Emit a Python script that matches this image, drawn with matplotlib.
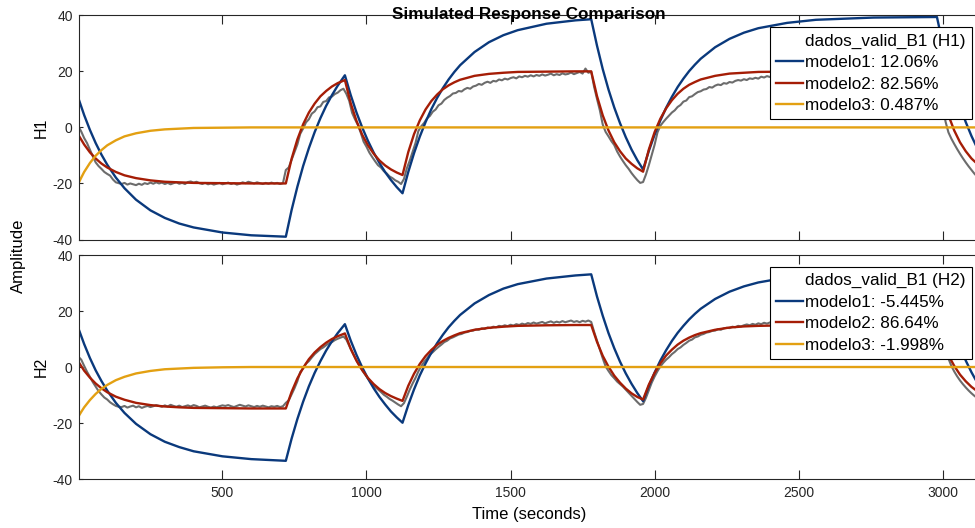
import numpy as np
import matplotlib
matplotlib.use("Agg")
import matplotlib.pyplot as plt
from matplotlib.lines import Line2D

plt.rcParams["font.family"] = ["Liberation Sans", "DejaVu Sans"]
plt.rcParams["axes.unicode_minus"] = False

# ================= DATA =================
TS = 10  # sample time of the validation record (s)

# measured outputs (dados_valid_B1), one sample every TS seconds from t = 0
h1_data = [
    0.5, -1.5, -3.8, -5.6, -8.0, -10.3, -12.5, -13.8, -14.8, -15.9, -16.6, -17.2, -18.6, -19.6, -19.9,
    -20.2, -19.8, -20.4, -20.0, -20.3, -20.6, -20.1, -20.5, -19.9, -20.2,
    -19.7, -20.1, -19.6, -20.0, -19.7, -20.2, -19.8, -20.3, -19.9, -19.6,
    -20.1, -19.8, -20.2, -19.5, -19.3, -19.7, -19.4, -19.9, -20.2, -19.8,
    -20.3, -20.0, -20.4, -20.1, -19.8, -20.3, -20.0, -19.7, -20.2, -19.9,
    -20.4, -20.1, -19.6, -19.9, -19.4, -19.7, -20.0, -19.6, -19.9, -20.2,
    -19.8, -20.1, -19.7, -20.0, -19.8, -20.2, -19.9,
    -15.2, -14.3, -11.6, -8.8, -6.1, -2.3, -0.4, 1.8, 2.9, 4.9, 5.7, 7.2, 7.5, 9.1, 9.4, 10.7,
    11.0, 11.9, 12.4, 13.3, 13.8,
    12.0, 9.5, 5.2, 2.9, 0.9, -1.9, -5.1, -6.9, -9.0, -10.6, -12.1, -13.5, -14.3, -15.6, -16.4,
    -17.5, -18.1, -18.9, -19.4, -20.2,
    -18.4, -14.6, -11.9, -8.7, -5.6, -1.3, 0.4, 1.6, 3.2, 4.1,
    5.6, 6.4, 7.9, 8.5, 9.8, 10.6, 11.2, 12.1, 12.3, 13.0,
    12.8, 13.6, 14.1, 13.8, 14.6, 14.9, 15.5, 15.2, 15.9, 16.3,
    15.9, 16.6, 16.4, 17.1, 16.8, 17.4, 17.1, 17.6, 17.9, 17.5,
    18.2, 17.9, 18.4, 18.1, 18.6, 18.2, 18.7, 18.4, 18.9, 18.5,
    18.8, 19.2, 18.6, 19.0, 18.7, 19.3, 18.9, 19.1, 19.6, 19.0,
    19.4, 19.8, 19.2, 21.0, 19.5, 19.9,
    14.5, 10.2, 6.1, 1.0, -1.6, -3.2, -4.9, -6.3, -8.6, -10.4, -12.0, -13.5, -14.8, -16.3, -17.6,
    -18.8, -19.8, -19.5,
    -16.8, -13.5, -9.9, -6.2, -1.8, 0.6, 1.9, 3.1, 4.2, 5.3,
    6.1, 7.3, 8.0, 9.2, 9.6, 10.8, 11.1, 11.9, 12.6, 12.9,
    13.5, 13.7, 14.4, 14.2, 14.9, 15.3, 15.1, 15.8, 15.6, 16.2,
    16.0, 16.6, 16.9, 16.7, 17.2, 16.9, 17.5, 17.3, 17.7, 17.4,
    18.1, 17.8, 18.3, 18.0, 18.5, 18.2, 18.7, 18.4, 18.9, 18.6,
    19.0, 18.7, 19.2, 18.8, 19.1, 19.4, 18.9, 19.3, 19.0, 19.5,
    19.1, 19.4, 19.7, 19.2, 19.6, 19.3, 19.8, 19.4, 19.7, 19.5,
    19.9, 19.4, 19.8, 19.5, 19.9, 19.6, 20.1, 19.7, 19.5, 19.9,
    19.6, 20.0, 19.7, 20.2, 19.8, 19.5, 19.9, 20.1, 19.7, 20.0,
    19.6, 19.9, 20.2, 19.8, 20.0, 19.6, 19.9, 20.1, 19.7, 20.0,
    19.8, 19.9,
    14.0, 8.0, 2.0, -1.8, -4.0, -5.9, -7.7, -9.4, -11.0, -12.5, -13.9, -15.2, -16.5, -17.6,
]

h2_data = [
    3.7, 2.6, 0.4, -1.7, -3.5, -5.4, -7.0, -8.6, -9.8, -10.9, -11.6, -12.6, -13.3, -13.9, -14.2,
    -14.3, -13.9, -14.5, -14.1, -13.8, -14.4, -14.0, -14.6, -14.2, -13.9,
    -14.3, -14.0, -13.6, -13.9, -14.2, -13.7, -14.1, -13.5, -13.9, -14.2,
    -13.8, -14.3, -14.0, -13.7, -14.1, -13.6, -13.9, -14.4, -14.1, -13.8,
    -14.2, -14.5, -14.1, -14.4, -14.0, -13.7, -13.9, -13.6, -14.0, -14.3,
    -13.9, -13.5, -13.8, -14.1, -13.7, -14.0, -14.3, -13.9, -14.2, -13.8,
    -14.1, -14.4, -14.0, -14.2, -13.9, -14.3, -14.0,
    -12.8, -11.9, -9.8, -7.6, -5.1, -1.8, -0.6, 1.2, 2.1, 3.4, 4.6, 5.5, 6.4, 7.0, 7.8, 8.5,
    8.9, 9.6, 10.1, 10.5, 10.9,
    9.8, 7.6, 5.4, 3.4, 1.4, -0.3, -1.9, -3.4, -4.8, -6.0, -7.2, -8.0, -8.9, -9.9, -10.6,
    -11.4, -12.0, -12.7, -13.4, -14.0,
    -12.9, -10.6, -8.1, -5.9, -3.9, -1.6, 0.3, 1.8, 3.1, 4.4,
    5.3, 6.3, 7.2, 8.0, 8.9, 9.4, 10.2, 10.6, 11.1, 11.6,
    11.8, 12.3, 12.5, 12.9, 13.0, 13.4, 13.3, 13.8, 13.6, 14.1,
    13.9, 14.4, 14.2, 14.7, 14.5, 14.9, 14.6, 15.1, 14.8, 15.3,
    15.0, 15.5, 15.2, 15.7, 15.4, 15.9, 15.5, 15.8, 16.1, 15.6,
    16.0, 16.3, 15.8, 16.2, 15.9, 16.4, 16.0, 16.3, 16.6, 16.1,
    16.4, 16.0, 16.5, 16.2, 16.6, 16.1,
    12.6, 9.4, 6.2, 3.1, 0.2, -1.4, -2.9, -4.0, -5.2, -6.1, -7.0, -8.1, -9.2, -10.3, -11.4,
    -12.5, -13.5, -13.2,
    -11.0, -8.3, -5.6, -3.4, -1.5, 0.2, 1.5, 2.6, 3.5, 4.6,
    5.4, 6.4, 7.0, 7.9, 8.6, 9.4, 9.8, 10.6, 10.9, 11.5,
    11.8, 12.3, 12.5, 12.9, 13.0, 13.5, 13.3, 13.8, 14.0, 13.9,
    14.4, 14.2, 14.7, 14.5, 14.9, 15.2, 14.9, 15.4, 15.1, 15.6,
    15.3, 15.8, 15.5, 15.9, 16.1, 15.7, 16.2, 15.9, 16.3, 16.0,
    16.4, 16.1, 16.5, 16.2, 16.4, 16.7, 16.2, 16.5, 16.3, 16.7,
    16.4, 16.8, 16.5, 16.2, 16.6, 16.4, 16.8, 16.5, 16.3, 16.7,
    16.4, 16.6, 16.9, 16.5, 16.7, 16.4, 16.8, 16.5, 16.7, 16.3,
    16.6, 16.9, 16.5, 16.7, 16.4, 16.8, 16.6, 16.3, 16.7, 16.5,
    16.9, 16.6, 16.4, 16.8, 16.5, 16.7, 16.4, 16.8, 16.6, 16.9,
    16.5, 16.7,
    13.0, 9.4, 6.0, 3.0, 0.4, -1.6, -3.3, -4.8, -6.1, -7.3, -8.4, -9.4, -10.3, -11.1,
]

# simulated model outputs (modelo1 / modelo2), read at these times (s)
t_model = [
    0, 20, 40, 60, 80, 100, 130, 160, 200, 250, 300, 350, 400, 500, 600, 720,
    740, 760, 780, 800, 820, 840, 860, 880, 900, 925,
    945, 965, 985, 1005, 1025, 1045, 1065, 1085, 1105, 1125,
    1145, 1165, 1185, 1205, 1225, 1245, 1265, 1285, 1305, 1325, 1375, 1425, 1475, 1525, 1625, 1725, 1780,
    1800, 1820, 1840, 1860, 1880, 1900, 1920, 1940, 1960,
    1980, 2000, 2020, 2040, 2060, 2080, 2100, 2120, 2140, 2160, 2210, 2260, 2310, 2360, 2460, 2560, 2760, 2980,
    3000, 3020, 3040, 3060, 3080, 3100, 3126,
]

m1_h1 = [
    10.4, 4.4, -0.9, -5.6, -9.7, -13.3, -17.9, -21.7, -25.8, -29.6, -32.3, -34.3, -35.7, -37.5, -38.5, -39.0,
    -29.5, -21.2, -13.8, -7.4, -1.7, 3.3, 7.7, 11.5, 14.9, 18.6,
    11.6, 5.4, 0.0, -4.8, -9.0, -12.7, -16.0, -18.8, -21.3, -23.5,
    -15.9, -9.2, -3.3, 1.9, 6.5, 10.5, 14.0, 17.1, 19.8, 22.2, 26.9, 30.4, 32.9, 34.7, 37.0, 38.2, 38.6,
    29.2, 20.8, 13.5, 7.1, 1.5, -3.5, -7.9, -11.7, -15.0,
    -8.4, -2.6, 2.5, 7.0, 10.9, 14.4, 17.4, 20.1, 22.4, 24.5, 28.6, 31.6, 33.8, 35.4, 37.3, 38.4, 39.2, 39.4,
    29.9, 21.5, 14.1, 7.6, 1.9, -3.1, -8.7,
]
m2_h1 = [
    -2.7, -6.1, -8.9, -11.1, -12.9, -14.3, -15.9, -17.1, -18.1, -18.9, -19.4, -19.6, -19.8, -19.9, -20.0, -20.0,
    -11.2, -4.3, 1.1, 5.3, 8.5, 11.1, 13.0, 14.6, 15.8, 16.9,
    8.7, 2.4, -2.6, -6.4, -9.4, -11.8, -13.6, -15.0, -16.1, -17.0,
    -8.8, -2.4, 2.5, 6.4, 9.4, 11.7, 13.6, 15.0, 16.1, 17.0, 18.4, 19.1, 19.5, 19.8, 19.9, 20.0, 20.0,
    11.2, 4.3, -1.1, -5.3, -8.5, -11.1, -13.0, -14.6, -15.8,
    -7.9, -1.7, 3.1, 6.8, 9.7, 12.0, 13.8, 15.2, 16.2, 17.1, 18.4, 19.2, 19.5, 19.8, 19.9, 20.0, 20.0, 20.0,
    11.2, 4.3, -1.1, -5.3, -8.5, -11.1, -13.6,
]
m1_h2 = [
    13.8, 8.2, 3.2, -1.2, -5.0, -8.4, -12.8, -16.4, -20.3, -24.0, -26.7, -28.6, -30.1, -31.9, -32.9, -33.5,
    -25.6, -18.6, -12.4, -6.9, -2.1, 2.1, 5.9, 9.2, 12.1, 15.3,
    9.5, 4.4, -0.1, -4.1, -7.6, -10.7, -13.4, -15.9, -18.0, -19.9,
    -13.6, -8.0, -3.0, 1.3, 5.1, 8.5, 11.5, 14.2, 16.5, 18.6, 22.7, 25.7, 28.0, 29.6, 31.6, 32.7, 33.1,
    25.2, 18.3, 12.1, 6.7, 1.9, -2.3, -6.0, -9.3, -12.2,
    -6.8, -2.0, 2.3, 6.0, 9.3, 12.2, 14.7, 17.0, 19.0, 20.8, 24.3, 26.9, 28.8, 30.2, 32.0, 32.9, 33.7, 33.9,
    25.9, 18.9, 12.7, 7.2, 2.3, -1.9, -6.7,
]
m2_h2 = [
    1.9, -1.3, -3.8, -5.9, -7.6, -9.0, -10.6, -11.7, -12.8, -13.6, -14.1, -14.4, -14.6, -14.7, -14.8, -14.8,
    -8.9, -4.1, -0.3, 2.8, 5.2, 7.1, 8.7, 10.0, 11.0, 12.0,
    6.6, 2.3, -1.1, -3.9, -6.1, -7.9, -9.3, -10.4, -11.3, -12.1,
    -6.7, -2.4, 1.1, 3.9, 6.1, 7.9, 9.3, 10.4, 11.3, 12.1, 13.3, 14.0, 14.4, 14.7, 14.9, 15.0, 15.0,
    9.0, 4.0, 0.1, -3.1, -5.6, -7.7, -9.4, -10.7, -11.6,
    -6.3, -2.1, 1.3, 4.1, 6.2, 8.0, 9.4, 10.5, 11.4, 12.1, 13.3, 14.1, 14.5, 14.7, 14.9, 15.0, 15.0, 15.0,
    9.0, 4.2, 0.4, -2.7, -5.1, -7.1, -9.1,
]

# modelo3 settles to zero after the initial transient
t_m3 = [0, 10, 20, 40, 60, 80, 100, 130, 160, 200, 250, 300, 400, 500, 600, 3126]
m3_h1 = [-20.0, -17.9, -15.9, -12.7, -10.1, -8.1, -6.4, -4.6, -3.2, -2.1, -1.2, -0.7, -0.2, -0.1, 0.0, 0.0]
m3_h2 = [-17.7, -16.0, -14.4, -11.8, -9.6, -7.8, -6.4, -4.7, -3.5, -2.3, -1.4, -0.8, -0.3, -0.1, 0.0, 0.0]

fit_h1 = ["12.06%", "82.56%", "0.487%"]
fit_h2 = ["-5.445%", "86.64%", "-1.998%"]

X_TICKS = [500, 1000, 1500, 2000, 2500, 3000]
Y_TICKS = [-40, -20, 0, 20, 40]
# =========================================

GRAY = "#6c6c6c"
BLUE = "#0a397c"
RED = "#a51d06"
YELLOW = "#e3a012"
AX_COLOR = "#262626"
LW = 1.7


def draw_panel(ax, data, m1, m2, m3, name, fits):
    t_data = np.arange(len(data)) * TS
    ax.plot(t_data, data, color=GRAY, lw=1.5)
    ax.plot(t_model, m1, color=BLUE, lw=LW)
    ax.plot(t_model, m2, color=RED, lw=LW)
    ax.plot(t_m3, m3, color=YELLOW, lw=LW)

    ax.set_xlim(2, 3126)
    ax.set_ylim(-40, 40)
    ax.set_xticks(X_TICKS)
    ax.set_yticks(Y_TICKS)
    ax.tick_params(axis="both", direction="in", top=True, right=True,
                   labelsize=10, colors=AX_COLOR, width=0.8)
    ax.tick_params(axis="x", length=6.8, pad=5)
    ax.tick_params(axis="y", length=2.7, pad=4.5)
    for spine in ax.spines.values():
        spine.set_color(AX_COLOR)
        spine.set_linewidth(0.8)

    ax.set_ylabel(name, fontsize=11.5, va="center")
    ax.yaxis.set_label_coords(-0.0417, 0.5)

    handles = [
        Line2D([], [], color="none"),
        Line2D([], [], color=BLUE, lw=LW),
        Line2D([], [], color=RED, lw=LW),
        Line2D([], [], color=YELLOW, lw=LW),
    ]
    labels = [f"dados_valid_B1 ({name})"] + [
        f"modelo{i + 1}: {fit}" for i, fit in enumerate(fits)
    ]
    leg = ax.legend(handles, labels, loc="upper right",
                    bbox_to_anchor=(0.9922, 0.946), borderaxespad=0,
                    fontsize=12.3, fancybox=False, edgecolor="black",
                    framealpha=1, handlelength=1.6, handletextpad=0.15,
                    borderpad=0.35, labelspacing=0.38)
    leg.get_frame().set_linewidth(0.8)


fig = plt.figure(figsize=(9.75, 5.28), dpi=100)
ax1 = fig.add_axes([0.0810, 0.5464, 0.9231, 0.4246])
ax2 = fig.add_axes([0.0810, 0.0928, 0.9231, 0.4242])

draw_panel(ax1, h1_data, m1_h1, m2_h1, m3_h1, "H1", fit_h1)
draw_panel(ax2, h2_data, m1_h2, m2_h2, m3_h2, "H2", fit_h2)
ax1.tick_params(labelbottom=False)

ax2.set_xlabel("Time (seconds)", fontsize=12, va="center")
ax2.xaxis.set_label_coords(0.5, -0.1607)

fig.text(0.019, 1 - 255.5 / 528, "Amplitude", rotation=90,
         ha="center", va="center", fontsize=12)
fig.text(529 / 975, 1 - 14 / 528, "Simulated Response Comparison",
         ha="center", va="center", fontsize=12.3, fontweight="bold")

fig.savefig("out.png", dpi=100)
